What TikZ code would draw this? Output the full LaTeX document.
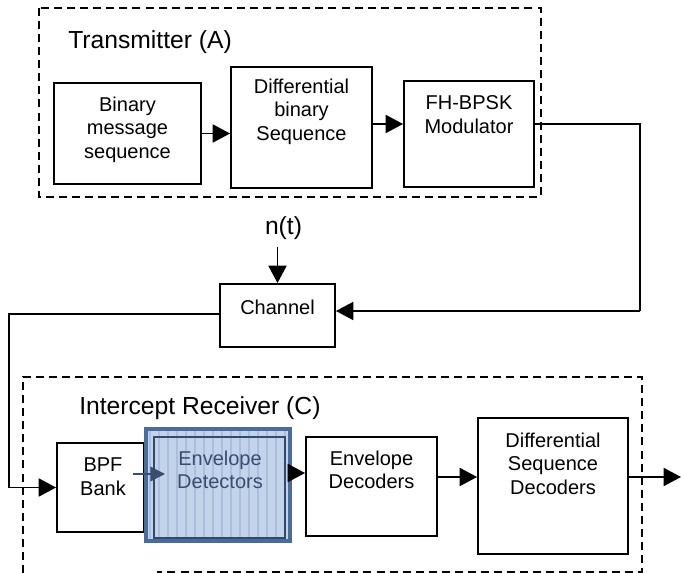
\documentclass[tikz,border=0pt]{standalone}
\usepackage{fontspec}
\setmainfont{Liberation Sans}
\usetikzlibrary{arrows.meta}

\definecolor{edgeblue}{HTML}{4A6C9C}
\definecolor{fillblue}{HTML}{C3D3EA}
\definecolor{stripeblue}{HTML}{AABEDD}
\definecolor{innerblue}{HTML}{34496E}
\definecolor{textblue}{HTML}{3A4C70}

\tikzset{
  blockbox/.style={draw=black, line width=1.4pt, inner sep=0pt, fill=white},
  blocktext/.style={font=\fontsize{15}{17.6}\selectfont, align=center, inner sep=0pt},
  titletext/.style={font=\fontsize{18.5}{22}\selectfont, anchor=west, inner sep=0pt},
  conn/.style={line width=1.4pt, -{Triangle[length=13pt,width=13.5pt]}},
  wire/.style={line width=1.4pt},
  groupline/.style={line width=1.3pt, dash pattern=on 6pt off 3.8pt},
}

\begin{document}
\begin{tikzpicture}[x=0.75pt, y=-0.75pt]
\useasboundingbox (0,0) rectangle (681,573);

% ---------------- Transmitter ----------------
\draw[groupline] (39,8) rectangle (541,197);
\node[titletext] (ttitle) at (68,42) {Transmitter (A)};

\node[blockbox, minimum width=110.25pt, minimum height=75.75pt] (bin) at (127.5,133.5) {};
\node[blocktext] (bintext) at (127.5,129.5) {Binary\\message\\sequence};

\node[blockbox, minimum width=105.75pt, minimum height=90.75pt] (diff) at (301.5,127.5) {};
\node[blocktext] (difftext) at (301.5,111.5) {Differential\\binary\\Sequence};

\node[blockbox, minimum width=97.5pt, minimum height=79.5pt] (fh) at (469,134) {};
\node[blocktext] (fhtext) at (469,114.5) {FH-BPSK\\Modulator};

\draw[conn] (bin.east) -- (bin.east -| diff.west);
\coordinate (dfy) at (0,124);
\draw[conn] (diff.east |- dfy) -- (fh.west |- dfy);

% ---------------- Channel ----------------
\node[blockbox, minimum width=86.25pt, minimum height=47.25pt] (chan) at (277.5,315.5) {};
\node[blocktext] (chantext) at (277.5,307) {Channel};
\node[font=\fontsize{18.5}{22}\selectfont, inner sep=0pt] (noise) at (283.5,228) {n(t)};
\coordinate (nstart) at (277.5,247);
\draw[conn] (nstart) -- (chan.north);

\coordinate (txcorner) at (640,124);
\coordinate (rxcorner) at (640,311);
\coordinate (chinY) at (0,311);
\draw[wire] (fh.east |- txcorner) -- (txcorner) -- (rxcorner);
\draw[conn] (rxcorner) -- (chan.east |- chinY);

% ---------------- Intercept receiver ----------------
\draw[groupline] (23,573) -- (23,377) -- (642,377) -- (642,572) -- (157,572);
\node[titletext] (rtitle) at (79,408) {Intercept Receiver (C)};

\node[blockbox, minimum width=65.25pt, minimum height=66.75pt] (bpf) at (100.5,487.5) {};
\node[blocktext] (bpftext) at (103,476.5) {BPF\\Bank};

\coordinate (choutY) at (0,314);
\coordinate (lcorner1) at (9,314);
\coordinate (lcorner2) at (9,487.5);
\draw[wire] (chan.west |- choutY) -- (lcorner1) -- (lcorner2);
\draw[conn] (lcorner2) -- (bpf.west);

% envelope detector block, highlighted
\node[draw=edgeblue, line width=3.3pt, fill=fillblue, inner sep=0pt,
      minimum width=108pt, minimum height=84pt] (envdet) at (218,485) {};
\begin{scope}
  \clip (148,431) rectangle (288,539);
  \foreach \sx in {150,159,...,290} {
    \draw[stripeblue, line width=0.9pt] (\sx,431) -- (\sx,539);
  }
\end{scope}
\draw[innerblue, line width=0.9pt] (154,437) rectangle (285,538);
\node[blocktext, text=textblue] (envdettext) at (220,470) {Envelope\\Detectors};

\node[blockbox, minimum width=98.25pt, minimum height=74.25pt] (envdec) at (371.5,486.5) {};
\node[blocktext] (envdectext) at (371.5,470) {Envelope\\Decoders};

\node[blockbox, minimum width=112.5pt, minimum height=102pt] (diffdec) at (553,486) {};
\node[blocktext] (diffdectext) at (553,463.5) {Differential\\Sequence\\Decoders};

\coordinate (bpfout) at (133,474);
\coordinate (detin) at (165,474);
\draw[textblue, line width=1.2pt, -{Triangle[length=11pt,width=11pt]}] (bpfout) -- (detin);

\coordinate (edY) at (0,473);
\draw[conn] (envdet.east |- edY) -- (envdec.west |- edY);
\coordinate (ddY) at (0,477);
\draw[conn] (envdec.east |- ddY) -- (diffdec.west |- ddY);
\coordinate (outend) at (681,477);
\draw[conn] (diffdec.east |- ddY) -- (outend);
\end{tikzpicture}
\end{document}
